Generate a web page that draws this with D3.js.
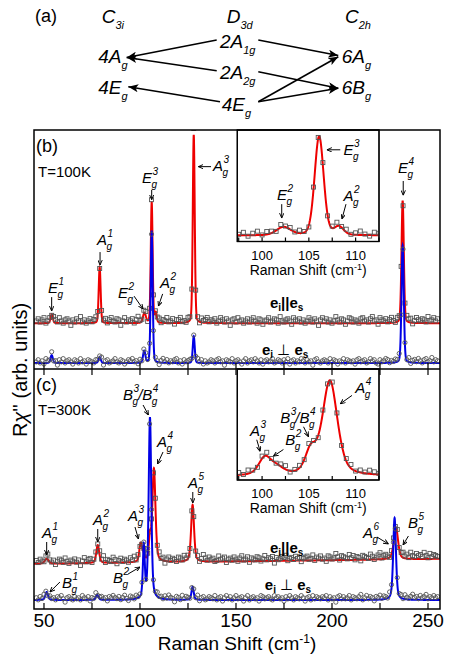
<!DOCTYPE html>
<meta charset="utf-8">
<head>
<title>Raman spectra</title>
<style>
  body { margin: 0; background: #fff; }
  svg text { font-family: "Liberation Sans", Arial, sans-serif; fill: #000; }
  .frame { fill: none; stroke: #000; stroke-width: 1.5; }
  .ibox { fill: #fff; stroke: #000; stroke-width: 1.2; }
  .tick { stroke: #000; stroke-width: 1.2; }
  .fitR { fill: none; stroke: #ee0000; stroke-width: 2; }
  .fitB { fill: none; stroke: #0000e6; stroke-width: 2; }
  .pt { fill: none; stroke: #555; stroke-width: 0.9; }
  .plbl { font-size: 15px; font-style: italic; }
  .psm { font-size: 10px; font-style: italic; }
  .parr { stroke: #000; stroke-width: 1; fill: none; }
  .dia { font-size: 19px; font-style: italic; }
  .diasub { font-size: 11px; font-style: italic; }
  .diarr { stroke: #000; stroke-width: 1.6; }
</style>
</head>
<body>
<svg width="463" height="655"></svg>
<script src="https://d3js.org/d3.v7.min.js"></script>
<script>
// ---- data: peaks are [centre (cm-1), height (arb.), half width (cm-1)] ----
var peaksB_par  = [[54, 0.45, 0.7], [79, 2.8, 0.6], [102.3, 0.5, 0.9], [106.1, 6.05, 0.57],
                   [108.2, 0.5, 0.6], [128, 9.45, 0.6], [236.8, 6.15, 0.7]];
var peaksB_perp = [[54, 0.4, 0.7], [79, 0.3, 0.7], [102.2, 0.6, 0.7], [106.1, 6.6, 0.6],
                   [128, 1.35, 0.6], [236.8, 5.9, 0.7]];
var peaksC_par  = [[51.4, 0.25, 1.2], [78, 0.9, 0.9], [100.3, 0.85, 0.8], [101.6, 0.35, 0.9],
                   [105.2, 1.1, 0.7], [107.25, 4.65, 0.95], [127.4, 2.85, 0.9], [233.3, 1.6, 1.3]];
var peaksC_perp = [[51.4, 0.4, 0.8], [77.7, 0.25, 0.8], [102, 2.6, 0.6], [105.2, 9.1, 0.8],
                   [127.4, 0.65, 0.7], [232.6, 4.1, 0.85]];
// baseline [level at 50 cm-1, slope per cm-1] and lorentz fraction
var baseB_par = [2.3, 0], baseB_perp = [0.3, 0], baseC_par = [2.26, 0.0012], baseC_perp = [0.45, 0];
var etaB = 0.2, etaC = 0.45;

// measured points: start 46 cm-1, one per cm-1; deviation from fit (x 0.055 arb.)
var shiftStart = 46, shiftStep = 1;
var noiseB_par = [2,4,1,3,5,0,2,3,-1,4, 3,1,5,2,0,3,4,2,-2,3, 1,4,2,6,1,3,0,2,4,1, 3,5,2,-1,3,2,4,0,3,5,
  2,1,4,3,-2,2,5,1,3,2, 4,0,3,6,2,1,3,4,-1,2, 5,3,1,2,4,0,3,2,5,1, 2,4,-1,3,3,5,1,2,0,4,
  3,2,6,1,3,-1,4,2,3,5, 1,3,2,4,0,2,5,3,1,4, 2,-2,3,4,1,5,2,3,0,2, 4,1,3,5,2,0,4,3,-1,2,
  3,5,1,2,4,3,0,6,2,1, 3,4,2,-1,5,3,2,4,1,3, 0,2,5,3,1,4,2,-2,3,5, 2,4,1,3,0,2,6,3,1,4,
  3,-1,2,5,4,1,3,2,0,4, 5,2,3,1,4,6,2,3,-1,5, 3,2,4,1,3,5,2,0,4,3, 6,2,1,5,3,4,-1,2,5,3, 2,4,3,1,6,2,3,5,2,4];
var noiseB_perp = [1,3,0,2,-1,4,2,1,3,0, 2,-2,3,1,4,0,2,3,1,-1, 3,2,0,4,1,2,-1,3,2,1, 0,3,2,1,4,-2,2,3,0,1,
  2,4,1,0,3,2,-1,1,3,2, 4,1,2,-1,3,0,2,4,1,3, 0,2,3,1,-2,2,4,1,3,0, 2,1,3,4,0,2,-1,3,1,2,
  3,0,1,2,4,1,3,-1,2,0, 1,3,2,0,3,4,1,2,-2,3, 2,1,4,0,2,3,1,-1,2,4, 0,2,3,1,4,2,0,3,-1,2,
  3,1,2,4,0,1,3,2,0,3, 1,4,-1,2,3,0,2,1,4,2, 0,3,1,2,-2,3,4,1,0,2, 3,2,0,4,1,3,2,-1,2,1,
  4,0,3,2,1,2,-1,3,4,1, 2,3,0,1,4,2,3,0,-1,3, 1,2,4,3,0,2,1,3,2,5, 0,3,2,1,4,-1,2,3,1,4, 2,0,3,4,1,2,5,1,3,2];
var noiseC_par = [3,1,4,2,0,3,5,2,1,3, -1,2,4,3,1,5,2,0,3,2, 4,1,3,-2,2,5,1,3,4,0, 2,3,1,4,2,6,0,3,2,1,
  5,3,-1,2,4,1,3,2,0,4, 2,5,1,3,-1,2,4,3,1,2, 3,0,4,2,5,1,3,-2,2,4, 1,3,2,0,4,3,1,5,2,3,
  0,2,4,1,3,-1,2,6,3,1, 4,2,3,0,1,5,2,3,4,-1, 2,3,1,4,2,0,3,5,1,2, 4,-1,3,2,1,4,3,0,2,5,
  1,3,2,4,-2,3,1,2,4,3, 5,0,2,3,1,4,2,3,-1,2, 3,4,1,2,5,0,3,2,4,1, 2,-1,4,3,1,2,6,3,0,4,
  3,2,1,5,2,4,0,3,2,-1, 4,3,2,1,5,3,0,2,4,6, 1,3,4,2,0,3,5,2,4,1, 3,5,2,4,1,6,3,2,5,3, 4,2,6,3,1,5,2,4,3,2];
var noiseC_perp = [2,0,3,1,4,2,-1,3,1,2, 0,3,2,4,1,-2,2,3,1,0, 3,1,2,0,4,2,1,3,-1,2, 1,4,0,2,3,1,2,-1,3,2,
  4,2,1,3,0,2,4,1,-1,3, 2,0,3,1,2,4,1,0,3,2, -1,3,2,4,1,2,0,3,1,4, 2,1,-2,3,2,0,4,1,3,2,
  0,2,3,1,4,-1,2,3,0,1, 3,2,1,4,0,2,3,-1,2,4, 1,3,0,2,4,1,2,3,-1,2, 4,0,2,3,1,2,-1,4,3,1,
  2,3,1,0,4,2,3,1,2,-1, 3,1,4,2,0,3,2,1,4,2, -1,2,3,0,4,1,3,2,1,3, 2,4,0,3,1,2,-2,3,4,1,
  3,1,2,4,0,3,2,1,3,5, 0,2,4,1,3,2,-1,3,2,4, 1,3,2,0,4,3,1,2,5,2, 3,0,4,2,1,3,5,2,3,1, 4,2,3,5,1,3,2,4,2,3];
// inset points: start 97.5 cm-1, every 0.5 cm-1 (x 0.06 arb.)
var insetStart = 97.5, insetStep = 0.5;
var insetNoiseB = [1,3,-1,2,4,0,3,2,-1,3,1,2,0,3,1,-2,2,1,3,-1,2,4,1,3,0,2,4,1,-1,3,2];
var insetNoiseC = [2,0,3,1,-1,2,3,1,0,2,3,-1,1,2,0,3,1,-2,2,1,3,2,-1,2,3,0,2,1,3,2,1];

var xTickValues = [50, 75, 100, 125, 150, 175, 200, 225, 250];
var xTickLabels = [50, 100, 150, 200, 250];
var insetTickValues = [97.5, 100, 102.5, 105, 107.5, 110, 112.5];
var insetTickLabels = [100, 105, 110];

// peak labels: items [letter, superscript] or separator, anchor in data units
var labelsB = [
  {items: [["E", "1"]], x: 52.1, y: 3.82}, {items: [["A", "1"]], x: 77.6, y: 6.22},
  {items: [["E", "2"]], x: 88.6, y: 3.56}, {items: [["A", "2"]], x: 110.4, y: 4.07},
  {items: [["E", "3"]], x: 101.1, y: 9.32}, {items: [["A", "3"]], x: 138.0, y: 9.94},
  {items: [["E", "4"]], x: 234.4, y: 9.84}];
var arrowsB = [[54.0, 3.61, 54.0, 2.91], [79.2, 5.87, 79.2, 5.22], [96.9, 3.66, 101.6, 3.01],
  [111.8, 3.77, 109.6, 3.16], [106.1, 8.99, 106.1, 8.5], [137.0, 10.16, 130.4, 10.16],
  [237.1, 9.44, 237.1, 8.72]];
var labelsC = [
  {items: [["B", "3"], "/", ["B", "4"]], x: 91.2, y: 10.45}, {items: [["A", "4"]], x: 108.9, y: 8.12},
  {items: [["A", "5"]], x: 125.0, y: 6.07}, {items: [["A", "3"]], x: 93.8, y: 4.4},
  {items: [["A", "2"]], x: 75.5, y: 4.2}, {items: [["A", "1"]], x: 49.0, y: 3.55},
  {items: [["B", "2"]], x: 86.0, y: 1.3}, {items: [["B", "1"]], x: 59.4, y: 1.05},
  {items: [["A", "6"]], x: 216.2, y: 3.55}, {items: [["B", "5"]], x: 239.6, y: 4.05}];
var arrowsC = [[101.6, 10.2, 104.4, 9.7], [112.0, 7.85, 109.1, 7.25], [127.5, 5.85, 127.5, 5.3],
  [97.4, 4.1, 99.2, 3.5], [78.0, 4.0, 78.0, 3.35], [51.4, 3.35, 51.4, 2.7], [93.8, 1.75, 100.0, 2.1],
  [58.3, 1.35, 53.1, 0.85], [223.4, 3.6, 229.4, 3.25], [239.8, 3.65, 237.0, 3.2]];
var labelsIB = [{items: [["E", "2"]], x: 101.6, y: 4.46}, {items: [["E", "3"]], x: 108.71, y: 7.23},
  {items: [["A", "2"]], x: 108.71, y: 4.38}];
var arrowsIB = [[102.1, 4.21, 102.1, 3.36], [108.36, 7.53, 106.93, 7.53], [108.97, 4.21, 108.54, 3.31]];
var labelsIC = [{items: [["A", "3"]], x: 98.7, y: 4.3}, {items: [["B", "2"]], x: 102.47, y: 3.85},
  {items: [["B", "3"], "/", ["B", "4"]], x: 101.93, y: 4.95}, {items: [["A", "4"]], x: 109.97, y: 6.42}];
var arrowsIC = [[99.43, 4.12, 99.79, 3.55], [102.28, 3.64, 101.21, 3.31], [104.43, 4.76, 104.96, 4.27],
  [109.61, 6.3, 108.36, 5.89]];

// ---- layout ----
var svg = d3.select("svg");
var frame = {left: 34, right: 440, top: 130, mid: 369, bottom: 609};
var x = d3.scaleLinear().domain([44.8, 256.25]).range([frame.left, frame.right]);
var yB = d3.scaleLinear().domain([0, 12]).range([frame.mid, frame.top]);
var yC = d3.scaleLinear().domain([0, 12]).range([frame.bottom, frame.mid]);
var xi = d3.scaleLinear().domain([97.35, 112.5]).range([237.3, 379]);
var yiB = d3.scaleLinear().domain([1.93, 8.74]).range([241.5, 130]);
var yiC = d3.scaleLinear().domain([2.14, 7.6]).range([480, 369]);

function model(peaks, base, eta, v) {
  var s = base[0] + base[1] * (v - 50);
  peaks.forEach(function(p) {
    var u = (v - p[0]) / p[2];
    s += p[1] * (eta / (1 + u * u) + (1 - eta) * Math.exp(-Math.LN2 * u * u));
  });
  return s;
}

var defs = svg.append("defs");
defs.append("marker").attr("id", "openHead").attr("viewBox", "0 0 8 8")
  .attr("refX", 8).attr("refY", 4).attr("markerWidth", 5).attr("markerHeight", 5)
  .attr("markerUnits", "userSpaceOnUse").attr("orient", "auto")
  .append("path").attr("d", "M0,0.5 L8,4 L0,7.5").attr("fill", "none").attr("stroke", "#000").attr("stroke-width", 1.5);
defs.append("marker").attr("id", "solidHead").attr("viewBox", "0 0 10 8")
  .attr("refX", 10).attr("refY", 4).attr("markerWidth", 10).attr("markerHeight", 8)
  .attr("markerUnits", "userSpaceOnUse").attr("orient", "auto")
  .append("path").attr("d", "M0,0 L10,4 L0,8 L2.5,4 Z").attr("fill", "#000");

function clip(id, x0, y0, w, h) {
  defs.append("clipPath").attr("id", id).append("rect")
    .attr("x", x0).attr("y", y0).attr("width", w).attr("height", h);
}
clip("clipB", frame.left, frame.top, frame.right - frame.left, frame.mid - frame.top);
clip("clipC", frame.left, frame.mid, frame.right - frame.left, frame.bottom - frame.mid);
clip("clipIB", 237.3, 130, 141.7, 111.5);
clip("clipIC", 237.3, 369, 141.7, 111);

function drawSpectrum(g, xs, ys, peaks, base, eta, noise, start, step, unit, cls, shape) {
  var lo = xs.domain()[0], hi = xs.domain()[1], curve = [];
  for (var v = lo; v <= hi; v += 0.04) curve.push(v);
  g.append("path").datum(curve).attr("class", cls)
    .attr("d", d3.line().x(function(v) { return xs(v); })
      .y(function(v) { return ys(model(peaks, base, eta, v)); }));
  var pts = noise.map(function(n, i) {
    var v = start + i * step;
    return {v: v, y: model(peaks, base, eta, v) + n * unit};
  });
  if (shape === "square") {
    g.selectAll(null).data(pts).enter().append("rect").attr("class", "pt")
      .attr("x", function(d) { return xs(d.v) - 2; }).attr("y", function(d) { return ys(d.y) - 2; })
      .attr("width", 4).attr("height", 4);
  } else {
    g.selectAll(null).data(pts).enter().append("circle").attr("class", "pt")
      .attr("cx", function(d) { return xs(d.v); }).attr("cy", function(d) { return ys(d.y); })
      .attr("r", 2.1);
  }
}

function drawLabels(g, xs, ys, labels, arrows) {
  labels.forEach(function(d) {
    var cx = xs(d.x), by = ys(d.y);
    d.items.forEach(function(it) {
      if (typeof it === "string") {
        var s = g.append("text").attr("class", "plbl").attr("x", cx - 1).attr("y", by).text(it);
        cx += s.node().getComputedTextLength() - 1;
        return;
      }
      var t = g.append("text").attr("class", "plbl").attr("x", cx).attr("y", by).text(it[0]);
      cx += t.node().getComputedTextLength() + 0.5;
      var a = g.append("text").attr("class", "psm").attr("x", cx).attr("y", by - 8).text(it[1]);
      var b = g.append("text").attr("class", "psm").attr("x", cx - 1).attr("y", by + 5).text("g");
      cx += Math.max(a.node().getComputedTextLength(), b.node().getComputedTextLength());
    });
  });
  g.selectAll(null).data(arrows).enter().append("line").attr("class", "parr")
    .attr("x1", function(d) { return xs(d[0]); }).attr("y1", function(d) { return ys(d[1]); })
    .attr("x2", function(d) { return xs(d[2]); }).attr("y2", function(d) { return ys(d[3]); })
    .attr("marker-end", "url(#openHead)");
}

function ticks(xs, values, yPos, dir, len) {
  svg.append("g").selectAll(null).data(values).enter().append("line").attr("class", "tick")
    .attr("x1", function(d) { return xs(d); }).attr("x2", function(d) { return xs(d); })
    .attr("y1", yPos).attr("y2", yPos + dir * len);
}

// ---- panel (b) ----
var gB = svg.append("g").attr("clip-path", "url(#clipB)");
drawSpectrum(gB, x, yB, peaksB_par, baseB_par, etaB, noiseB_par, shiftStart, shiftStep, 0.055, "fitR", "square");
drawSpectrum(gB, x, yB, peaksB_perp, baseB_perp, etaB, noiseB_perp, shiftStart, shiftStep, 0.055, "fitB", "circle");
drawLabels(svg.append("g"), x, yB, labelsB, arrowsB);

// ---- panel (c) ----
var gC = svg.append("g").attr("clip-path", "url(#clipC)");
drawSpectrum(gC, x, yC, peaksC_par, baseC_par, etaC, noiseC_par, shiftStart, shiftStep, 0.055, "fitR", "square");
drawSpectrum(gC, x, yC, peaksC_perp, baseC_perp, etaC, noiseC_perp, shiftStart, shiftStep, 0.055, "fitB", "circle");
drawLabels(svg.append("g"), x, yC, labelsC, arrowsC);

// polarisation labels
function polLabel(xv, yv, perp) {
  var t = svg.append("text").attr("x", x(xv)).attr("y", yv).style("font-size", "15px").style("font-weight", "bold");
  t.append("tspan").text("e");
  t.append("tspan").attr("dy", 3).style("font-size", "10px").text("i");
  if (perp) t.append("tspan").attr("dy", -3).style("font-weight", "normal").text(" \u22A5 ");
  else t.append("tspan").attr("dy", -3).text("||");
  t.append("tspan").text("e");
  t.append("tspan").attr("dy", 3).style("font-size", "10px").text("s");
}
polLabel(167.7, yB(3.06), false);
polLabel(163.5, yB(0.70), true);
polLabel(167.7, yC(2.8), false);
polLabel(165.0, yC(0.95), true);

// ---- insets ----
function drawInset(top, bottom, ys, peaks, base, eta, noise, labels, arrows, clipId) {
  svg.append("rect").attr("class", "ibox").attr("x", xi.range()[0]).attr("y", top)
    .attr("width", xi.range()[1] - xi.range()[0]).attr("height", bottom - top);
  var g = svg.append("g").attr("clip-path", "url(#" + clipId + ")");
  drawSpectrum(g, xi, ys, peaks, base, eta, noise, insetStart, insetStep, 0.06, "fitR", "square");
  svg.append("rect").attr("x", xi.range()[0]).attr("y", top)
    .attr("width", xi.range()[1] - xi.range()[0]).attr("height", bottom - top)
    .attr("fill", "none").attr("stroke", "#000").attr("stroke-width", 1.2);
  ticks(xi, insetTickValues, bottom, -1, 4);
  svg.append("g").selectAll(null).data(insetTickLabels).enter().append("text")
    .attr("x", function(d) { return xi(d); }).attr("y", bottom + 18)
    .attr("text-anchor", "middle").style("font-size", "13px").text(function(d) { return d; });
  var xl = svg.append("text").attr("x", (xi.range()[0] + xi.range()[1]) / 2).attr("y", bottom + 33)
    .attr("text-anchor", "middle").style("font-size", "14px").text("Raman Shift (cm");
  xl.append("tspan").attr("dy", -5).style("font-size", "9px").text("-1");
  xl.append("tspan").attr("dy", 5).text(")");
  drawLabels(svg.append("g"), xi, ys, labels, arrows);
}
drawInset(130, 241.5, yiB, peaksB_par, baseB_par, etaB, insetNoiseB, labelsIB, arrowsIB, "clipIB");
drawInset(369, 480, yiC, peaksC_par, [2.33, 0], etaC, insetNoiseC, labelsIC, arrowsIC, "clipIC");

// ---- frame and axes ----
svg.append("rect").attr("class", "frame").attr("x", frame.left).attr("y", frame.top)
  .attr("width", frame.right - frame.left).attr("height", frame.bottom - frame.top);
svg.append("line").attr("x1", frame.left).attr("x2", frame.right)
  .attr("y1", frame.mid).attr("y2", frame.mid).attr("stroke", "#000").attr("stroke-width", 1.5);
ticks(x, xTickValues, frame.mid, -1, 6);
ticks(x, xTickValues, frame.mid, 1, 6);
ticks(x, xTickValues, frame.bottom, -1, 6);
svg.append("g").selectAll(null).data(xTickLabels).enter().append("text")
  .attr("x", function(d) { return x(d); }).attr("y", 627)
  .attr("text-anchor", "middle").style("font-size", "19px").text(function(d) { return d; });
var xlab = svg.append("text").attr("x", (frame.left + frame.right) / 2).attr("y", 650)
  .attr("text-anchor", "middle").style("font-size", "19px").text("Raman Shift (cm");
xlab.append("tspan").attr("dy", -7).style("font-size", "12px").text("-1");
xlab.append("tspan").attr("dy", 7).text(")");
var ylab = svg.append("text").attr("transform", "translate(27,370) rotate(-90)")
  .attr("text-anchor", "middle").style("font-size", "20px").text("R");
ylab.append("tspan").style("font-style", "italic").text("\u03C7");
ylab.append("tspan").text("'' (arb. units)");

svg.append("text").attr("x", 36).attr("y", 152).style("font-size", "18px").text("(b)");
svg.append("text").attr("x", 38).attr("y", 177).style("font-size", "15px").text("T=100K");
svg.append("text").attr("x", 36).attr("y", 391).style("font-size", "18px").text("(c)");
svg.append("text").attr("x", 38).attr("y", 415).style("font-size", "15px").text("T=300K");

// ---- panel (a): correlation diagram ----
svg.append("text").attr("x", 35).attr("y", 22).style("font-size", "18px").text("(a)");
var diagram = [
  ["C", "3i", 101.7, 22.7], ["D", "3d", 226.7, 22.7], ["C", "2h", 345, 22.7],
  ["2A", "1g", 220, 47.7], ["2A", "2g", 220, 79.3], ["4E", "g", 221.7, 111],
  ["4A", "g", 98.3, 62.7], ["4E", "g", 98.3, 94.3], ["6A", "g", 341.7, 62.7], ["6B", "g", 341.7, 94.3]];
diagram.forEach(function(d) {
  var t = svg.append("text").attr("class", "dia").attr("x", d[2]).attr("y", d[3]).text(d[0]);
  t.append("tspan").attr("class", "diasub").attr("dy", 6).text(d[1]);
});
var links = [[216.7, 40, 126.7, 57.5], [216.7, 70.7, 126.7, 57.5], [258.3, 40, 338.3, 55.5],
  [258.3, 71.7, 338.3, 88.3], [220, 101.7, 128.3, 86.7], [258.3, 101.7, 338.3, 56.7],
  [258.3, 101.7, 338.3, 88.3]];
svg.append("g").selectAll(null).data(links).enter().append("line").attr("class", "diarr")
  .attr("x1", function(d) { return d[0]; }).attr("y1", function(d) { return d[1]; })
  .attr("x2", function(d) { return d[2]; }).attr("y2", function(d) { return d[3]; })
  .attr("marker-end", "url(#solidHead)");
</script>
</body>
